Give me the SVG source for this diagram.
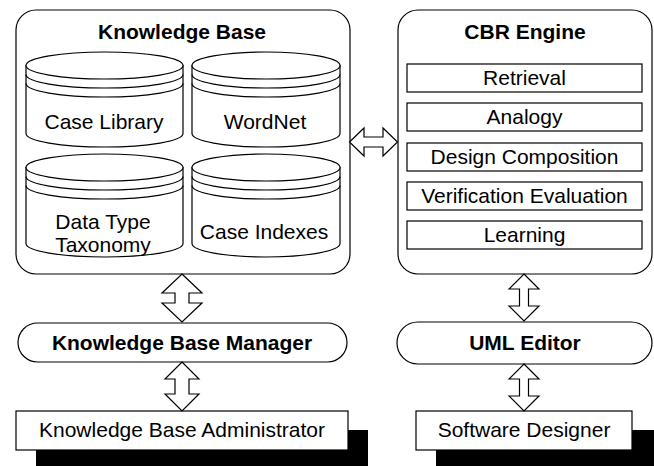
<svg xmlns="http://www.w3.org/2000/svg" width="654" height="466" viewBox="0 0 654 466">
<defs>
<style>
.box{fill:#fff;stroke:#000;stroke-width:1.2}
.ln{fill:none;stroke:#000;stroke-width:1.2}
.arr{fill:#fff;stroke:#000;stroke-width:1.2;stroke-linejoin:miter}
.sh{fill:#000;stroke:none}
text{font-family:"Liberation Sans",Arial,Helvetica,sans-serif;font-size:21px;fill:#000;text-anchor:middle}
.b{font-weight:bold}
</style>
</defs>
<rect width="654" height="466" fill="#fff"/>

<g id="knowledge-base">
<rect class="box" x="16" y="10" width="334" height="264" rx="20" ry="20"/>
<text class="b" x="182" y="39">Knowledge Base</text>
</g>

<g id="case-library">
<path class="box" d="M26 65.5 L26 133.5 A78.5 13.5 0 0 0 183 133.5 L183 65.5 Z"/>
<ellipse class="box" cx="104.5" cy="65.5" rx="78.5" ry="13.5"/>
<path class="ln" d="M26 74.5 A78.5 13.5 0 0 0 183 74.5 M26 83.5 A78.5 13.5 0 0 0 183 83.5"/>
<text x="104" y="129">Case Library</text>
</g>

<g id="wordnet">
<path class="box" d="M192 65.5 L192 133.5 A74 13.5 0 0 0 340 133.5 L340 65.5 Z"/>
<ellipse class="box" cx="266" cy="65.5" rx="74" ry="13.5"/>
<path class="ln" d="M192 74.5 A74 13.5 0 0 0 340 74.5 M192 83.5 A74 13.5 0 0 0 340 83.5"/>
<text x="265" y="129">WordNet</text>
</g>

<g id="data-type-taxonomy">
<path class="box" d="M26 167.5 L26 243.5 A78.5 13.5 0 0 0 183 243.5 L183 167.5 Z"/>
<ellipse class="box" cx="104.5" cy="167.5" rx="78.5" ry="13.5"/>
<path class="ln" d="M26 176.5 A78.5 13.5 0 0 0 183 176.5 M26 185.5 A78.5 13.5 0 0 0 183 185.5"/>
<text x="103" y="229">Data Type</text>
<text x="103" y="252">Taxonomy</text>
</g>

<g id="case-indexes">
<path class="box" d="M192 167.5 L192 243.5 A74 13.5 0 0 0 340 243.5 L340 167.5 Z"/>
<ellipse class="box" cx="266" cy="167.5" rx="74" ry="13.5"/>
<path class="ln" d="M192 176.5 A74 13.5 0 0 0 340 176.5 M192 185.5 A74 13.5 0 0 0 340 185.5"/>
<text x="264" y="239">Case Indexes</text>
</g>

<g id="cbr-engine">
<rect class="box" x="398" y="10" width="254" height="264" rx="20" ry="20"/>
<text class="b" x="525" y="39">CBR Engine</text>
</g>

<g id="retrieval">
<rect class="box" x="407" y="64" width="235" height="28"/>
<text x="524.5" y="85">Retrieval</text>
</g>
<g id="analogy">
<rect class="box" x="407" y="103" width="235" height="28"/>
<text x="524.5" y="124">Analogy</text>
</g>
<g id="design-composition">
<rect class="box" x="407" y="143" width="235" height="28"/>
<text x="524.5" y="164">Design Composition</text>
</g>
<g id="verification-evaluation">
<rect class="box" x="407" y="182" width="235" height="28"/>
<text x="524.5" y="203">Verification Evaluation</text>
</g>
<g id="learning">
<rect class="box" x="407" y="221" width="235" height="28"/>
<text x="524.5" y="242">Learning</text>
</g>

<g id="knowledge-base-manager">
<rect class="box" x="18" y="323" width="329" height="39" rx="19.5" ry="19.5"/>
<text class="b" x="182" y="350">Knowledge Base Manager</text>
</g>

<g id="uml-editor">
<rect class="box" x="397" y="322" width="255" height="42" rx="21" ry="21"/>
<text class="b" x="525" y="350">UML Editor</text>
</g>

<g id="knowledge-base-administrator">
<rect class="sh" x="36" y="430" width="332" height="40"/>
<rect class="box" x="16" y="411" width="332" height="39"/>
<text x="182" y="437">Knowledge Base Administrator</text>
</g>

<g id="software-designer">
<rect class="sh" x="436" y="430" width="220" height="40"/>
<rect class="box" x="416" y="411" width="216" height="39"/>
<text x="524" y="437">Software Designer</text>
</g>

<g id="connectors">
<polygon class="arr" points="349.5,142 364,128 364,137 383,137 383,128 397.5,142 383,156 383,147 364,147 364,156"/>
<polygon class="arr" points="182,274 202,293 189,293 189,303 202,303 182,322 162,303 175,303 175,293 162,293"/>
<polygon class="arr" points="182,362 199,379 189,379 189,394 199,394 182,411 165,394 175,394 175,379 165,379"/>
<polygon class="arr" points="524,274 539,289 528.5,289 528.5,306 539,306 524,321 509,306 519.5,306 519.5,289 509,289"/>
<polygon class="arr" points="524,364 539,379 528.5,379 528.5,396 539,396 524,411 509,396 519.5,396 519.5,379 509,379"/>
</g>
</svg>
